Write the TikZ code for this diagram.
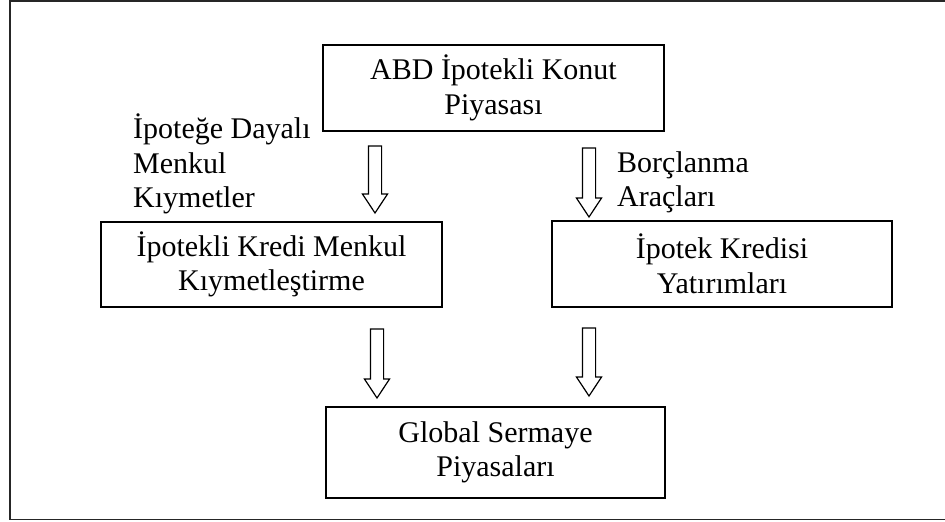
\documentclass[tikz,border=0pt]{standalone}
\usepackage{fontspec}
\setmainfont{Liberation Serif}
\usetikzlibrary{shapes.arrows}
\begin{document}
\begin{tikzpicture}[x=1pt, y=-1pt,
    box/.style={draw, line width=1.2pt, rectangle, inner sep=0pt, align=center,
      font=\fontsize{30}{34.5}\selectfont},
    lbl/.style={align=left, inner sep=0pt, anchor=north west, font=\fontsize{30}{34.5}\selectfont},
    hollow/.style={draw, line width=1.2pt, single arrow, shape border rotate=270, inner sep=6pt,
      single arrow head extend=6pt, single arrow tip angle=67}]
  \useasboundingbox (0,0) rectangle (945,522);
  \clip (0,0) rectangle (945,522);
  \fill[white] (0,0) rectangle (945,522);
  \draw[line width=1.8pt, black!85] (10,0.8) rectangle (960,519.5);
  % boxes
  \node[box, minimum width=341pt, minimum height=86pt] (market) at (493.5,88) {ABD İpotekli Konut\\Piyasası};
  \node[box, minimum width=341pt, minimum height=85pt] (secur) at (271.5,264.5) {İpotekli Kredi Menkul\\Kıymetleştirme};
  \node[box, minimum width=340pt, minimum height=86pt] (invest) at (722,264) {İpotek Kredisi\\Yatırımları};
  \node[box, minimum width=339pt, minimum height=91pt] (global) at (495.5,452.5) {Global Sermaye\\Piyasaları};
  % arrows
  \node[hollow, minimum height=67pt] (a1) at (375,174.5) {};
  \node[hollow, minimum height=69pt] (a2) at (589,177.5) {};
  \node[hollow, minimum height=69pt] (a3) at (377,358.5) {};
  \node[hollow, minimum height=68pt] (a4) at (589,357) {};
  % labels
  \node[lbl] (mbs) at (133,114) {İpoteğe Dayalı\\Menkul\\Kıymetler};
  \node[lbl] (debt) at (617,151) {Borçlanma\\Araçları};
\end{tikzpicture}
\end{document}
